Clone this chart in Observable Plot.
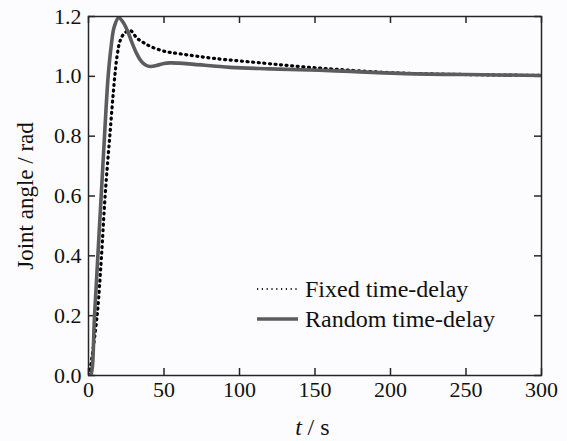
<!DOCTYPE html>
<html>
<head>
<meta charset="utf-8">
<script src="https://cdn.jsdelivr.net/npm/d3@7"></script>
<script src="https://cdn.jsdelivr.net/npm/@observablehq/plot@0.6"></script>
<style>
  html, body { margin: 0; padding: 0; background: #fcfcfe; }
  #wrap { position: relative; width: 567px; height: 441px; }
  #legend { position: absolute; left: 0; top: 0; pointer-events: none; }
</style>
</head>
<body>
<div id="wrap"></div>
<script>
// ---- data ----
const seriesNames = ["Fixed time-delay", "Random time-delay"];

const tFixed = [0, 1, 5.7, 8.6, 11, 14.1, 17.4, 19, 21, 24, 27.8, 32, 36, 41, 50, 61, 83, 116, 139, 160, 180, 206, 250, 300];
const yFixed = [0, 0.02, 0.2, 0.4, 0.6, 0.8, 1.0, 1.07, 1.12, 1.145, 1.153, 1.128, 1.114, 1.1, 1.084, 1.075, 1.06, 1.044, 1.033, 1.025, 1.018, 1.011, 1.006, 1.003];

const tRandom = [0, 1.3, 4, 6.2, 8.4, 10.6, 13, 15, 17, 20, 23, 26, 29, 32, 35, 38, 41, 45, 50, 54, 60, 70, 94, 120, 160, 206, 250, 300];
const yRandom = [0, 0, 0.2, 0.4, 0.6, 0.8, 1.0, 1.1, 1.165, 1.196, 1.18, 1.15, 1.11, 1.075, 1.05, 1.037, 1.033, 1.036, 1.043, 1.045, 1.044, 1.04, 1.03, 1.025, 1.019, 1.01, 1.006, 1.003];

const xTicks = [0, 50, 100, 150, 200, 250, 300];
const yTicks = [0, 0.2, 0.4, 0.6, 0.8, 1.0, 1.2];
const xLabelItalic = "t";
const xLabelRest = "/ s";
const yLabel = "Joint angle / rad";

// ---- build tables ----
const fixed = tFixed.map((t, i) => ({t, v: yFixed[i]}));
const random = tRandom.map((t, i) => ({t, v: yRandom[i]}));

const W = 567, H = 441, mL = 88, mR = 26, mT = 16, mB = 66;
const pw = W - mL - mR, ph = H - mT - mB, tick = 7;
const ink = "#262626";
const font = "'Liberation Serif', 'Times New Roman', serif";

const chart = Plot.plot({
  width: W, height: H,
  marginLeft: mL, marginRight: mR, marginTop: mT, marginBottom: mB,
  style: {fontFamily: font, fontSize: "22px", color: "#111", background: "transparent", overflow: "visible"},
  x: {domain: [0, 300]},
  y: {domain: [0, 1.2]},
  marks: [
    Plot.tickX(xTicks, {x: d => d, insetTop: ph - tick, stroke: ink, strokeWidth: 1.5}),
    Plot.tickX(xTicks, {x: d => d, insetBottom: ph - tick, stroke: ink, strokeWidth: 1.5}),
    Plot.tickY(yTicks, {y: d => d, insetRight: pw - tick, stroke: ink, strokeWidth: 1.5}),
    Plot.tickY(yTicks, {y: d => d, insetLeft: pw - tick, stroke: ink, strokeWidth: 1.5}),
    Plot.axisX({ticks: xTicks, tickSize: 0, tickPadding: 6, label: null, fontSize: 22}),
    Plot.axisY({ticks: yTicks, tickSize: 0, tickPadding: 7, label: null, fontSize: 22, tickFormat: d3.format(".1f")}),
    Plot.line(fixed, {x: "t", y: "v", stroke: "#000", strokeWidth: 3.2, strokeDasharray: "1,4.6", strokeLinecap: "round", curve: "catmull-rom", clip: true}),
    Plot.line(random, {x: "t", y: "v", stroke: "#5c5c5c", strokeWidth: 3.6, curve: "catmull-rom", clip: true}),
    Plot.frame({stroke: ink, strokeWidth: 1.5}),
    Plot.text([yLabel], {frameAnchor: "left", text: d => d, rotate: -90, dx: -63, textAnchor: "middle", lineAnchor: "middle", fontSize: 23, fill: "#111"}),
    Plot.text([xLabelItalic], {frameAnchor: "bottom", text: d => d, dx: -13, dy: 52, textAnchor: "end", lineAnchor: "middle", fontSize: 24, fontStyle: "italic", fill: "#111"}),
    Plot.text([xLabelRest], {frameAnchor: "bottom", text: d => d, dx: -7.5, dy: 52, textAnchor: "start", lineAnchor: "middle", fontSize: 24, fill: "#111"})
  ]
});

const wrap = document.getElementById("wrap");
wrap.appendChild(chart);

// ---- legend overlay ----
const ns = "http://www.w3.org/2000/svg";
const leg = document.createElementNS(ns, "svg");
leg.setAttribute("id", "legend");
leg.setAttribute("width", W);
leg.setAttribute("height", H);
const items = [
  {name: seriesNames[0], y: 289, stroke: "#222", sw: 2, dash: "1.2,3.6"},
  {name: seriesNames[1], y: 319, stroke: "#5c5c5c", sw: 3.5, dash: null}
];
items.forEach(it => {
  const l = document.createElementNS(ns, "line");
  l.setAttribute("x1", 257); l.setAttribute("x2", 298);
  l.setAttribute("y1", it.y); l.setAttribute("y2", it.y);
  l.setAttribute("stroke", it.stroke);
  l.setAttribute("stroke-width", it.sw);
  if (it.dash) l.setAttribute("stroke-dasharray", it.dash);
  leg.appendChild(l);
  const t = document.createElementNS(ns, "text");
  t.setAttribute("x", 305);
  t.setAttribute("y", it.y + 8);
  t.setAttribute("font-family", font);
  t.setAttribute("font-size", 24);
  t.setAttribute("fill", "#111");
  t.textContent = it.name;
  leg.appendChild(t);
});
wrap.appendChild(leg);
</script>
</body>
</html>
